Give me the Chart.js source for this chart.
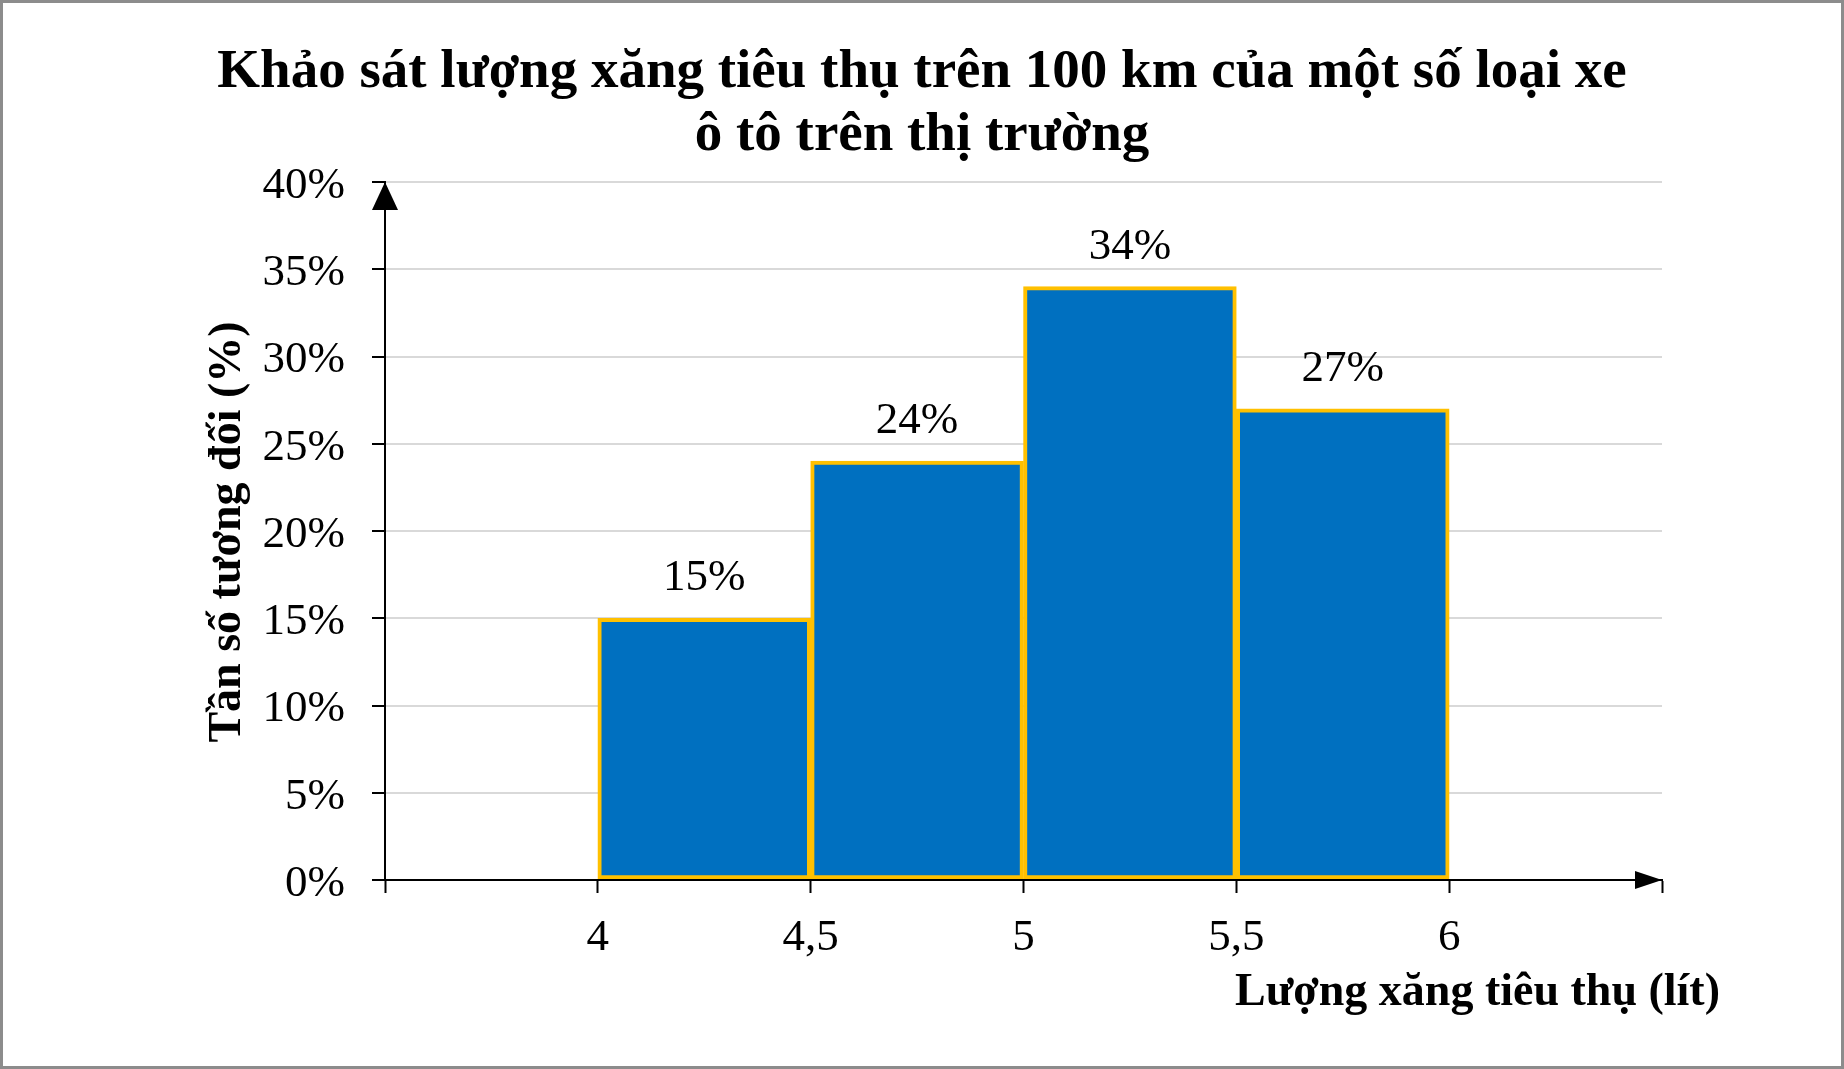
<!DOCTYPE html>
<html>
<head>
<meta charset="utf-8">
<script src="https://cdn.jsdelivr.net/npm/chart.js@4.4.1/dist/chart.umd.min.js"></script>
<style>
  html, body { margin: 0; padding: 0; background: #fff; }
  canvas { display: block; }
</style>
</head>
<body>
<canvas id="histChart" width="1844" height="1069"></canvas>
<script>
// bin edges (litres) and relative frequency of each bin (%)
const binEdges = [4, 4.5, 5, 5.5, 6];
const percents = [15, 24, 34, 27];
const xRange = [3.5, 6.5];
const yRange = [0, 40];
const titleLines = ['Khảo sát lượng xăng tiêu thụ trên 100 km của một số loại xe', 'ô tô trên thị trường'];
const xTitle = 'Lượng xăng tiêu thụ (lít)';
const yTitle = 'Tần số tương đối (%)';

const serif = '"Liberation Serif", "Times New Roman", serif';

let points = percents.map((p, i) => ({ x: (binEdges[i] + binEdges[i + 1]) / 2, y: p }));

const decor = {
    id: 'decor',
    beforeDraw(chart) {
        const c = chart.ctx;
        c.save();
        c.fillStyle = '#fff';
        c.fillRect(0, 0, chart.width, chart.height);
        c.restore();
    },
    afterDraw(chart) {
        const c = chart.ctx;
        const xs = chart.scales.x, ys = chart.scales.y;
        const x0 = xs.left, y0 = ys.getPixelForValue(yRange[0]);
        c.save();
        c.fillStyle = '#000';
        // arrow heads
        let ty = ys.getPixelForValue(yRange[1]);
        c.beginPath();
        c.moveTo(x0, ty);
        c.lineTo(x0 - 13, ty + 28);
        c.lineTo(x0 + 13, ty + 28);
        c.closePath();
        c.fill();
        let tx = xs.getPixelForValue(xRange[1]);
        c.beginPath();
        c.moveTo(tx, y0);
        c.lineTo(tx - 27, y0 - 9);
        c.lineTo(tx - 27, y0 + 9);
        c.closePath();
        c.fill();

        // value labels
        c.font = '45px ' + serif;
        c.textAlign = 'center';
        c.textBaseline = 'alphabetic';
        chart.getDatasetMeta(0).data.forEach((bar, i) => {
            c.fillText(percents[i] + '%', bar.x, bar.y - 28);
        });

        // title
        c.font = 'bold 55px ' + serif;
        titleLines.forEach((t, i) => c.fillText(t, chart.width / 2, 87 + i * 63));

        // axis titles
        c.font = 'bold 46px ' + serif;
        c.textAlign = 'right';
        c.fillText(xTitle, 1720, 1005);
        c.save();
        c.translate(240, 532);
        c.rotate(-Math.PI / 2);
        c.textAlign = 'center';
        c.fillText(yTitle, 0, 0);
        c.restore();

        // frame
        c.strokeStyle = '#8c8c8c';
        c.lineWidth = 3;
        c.strokeRect(1.5, 1.5, chart.width - 3, chart.height - 3);
        c.restore();
    }
};

const ctx = document.getElementById('histChart').getContext('2d');
const histChart = new Chart(ctx, {
    type: 'bar',
    data: {
        datasets: [{
            data: points,
            backgroundColor: '#0070C0',
            borderColor: '#FFC000',
            borderWidth: 4,
            borderSkipped: false,
            barPercentage: 1,
            categoryPercentage: 1
        }]
    },
    options: {
        responsive: false,
        animation: false,
        devicePixelRatio: 1,
        layout: { padding: { top: 182, right: 182, bottom: 0, left: 0 } },
        plugins: {
            legend: { display: false },
            title: { display: false },
            tooltip: { enabled: false }
        },
        scales: {
            x: {
                type: 'linear',
                min: xRange[0],
                max: xRange[1],
                offset: false,
                grid: { offset: false, drawOnChartArea: false, tickLength: 13, tickColor: '#000', tickWidth: 2 },
                border: { color: '#000', width: 2, z: 1 },
                ticks: {
                    stepSize: 0.5,
                    padding: 18,
                    color: '#000',
                    font: { family: serif, size: 45 },
                    maxRotation: 0,
                    autoSkip: false,
                    callback: v => (v < binEdges[0] || v > binEdges[binEdges.length - 1]) ? '' : String(v).replace('.', ',')
                },
                afterFit: s => { s.height = 189; }
            },
            y: {
                min: yRange[0],
                max: yRange[1],
                grid: { color: '#d9d9d9', lineWidth: 2, tickLength: 13, tickColor: '#000', tickWidth: 2 },
                border: { color: '#000', width: 2 },
                ticks: {
                    stepSize: 5,
                    padding: 27,
                    labelOffset: 4,
                    color: '#000',
                    font: { family: serif, size: 45 },
                    callback: v => v + '%'
                },
                afterFit: s => { s.width = 385; }
            }
        }
    },
    plugins: [decor]
});
</script>
</body>
</html>
